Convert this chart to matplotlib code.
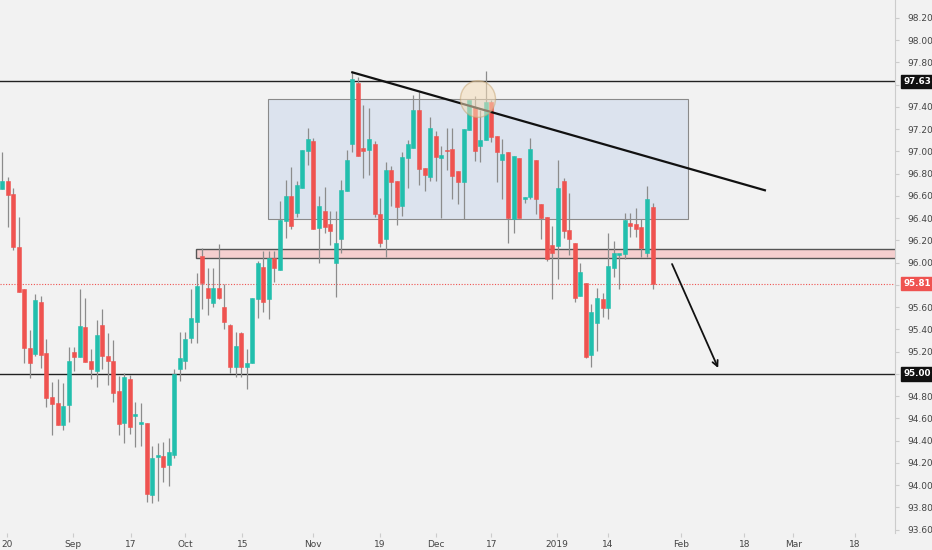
import matplotlib
matplotlib.use("Agg")
import matplotlib.pyplot as plt
from matplotlib.patches import Rectangle, Ellipse
import numpy as np

opens = [96.66,96.73,96.62,96.14,95.76,95.23,95.18,95.65,95.19,94.79,94.74,94.54,94.72,95.20,95.15,95.42,95.12,95.03,95.44,95.16,
         95.12,94.85,94.56,94.95,94.62,94.55,94.56,93.91,94.25,94.26,94.18,94.27,95.04,95.12,95.32,95.47,96.06,95.77,95.64,95.77,
         95.60,95.44,95.06,95.37,95.06,95.10,95.67,95.96,95.67,96.04,95.93,96.37,96.60,96.45,96.67,97.00,97.09,96.31,96.46,96.35,
         96.00,96.21,96.64,97.07,97.61,97.03,97.01,97.07,96.44,96.21,96.83,96.73,96.51,96.94,97.03,97.37,96.85,96.77,97.14,96.94,
         97.01,97.02,96.82,96.72,97.19,97.40,97.05,97.10,97.44,97.14,96.92,96.99,96.39,96.94,96.57,96.59,96.92,96.53,96.41,96.16,
         96.15,96.73,96.29,96.18,95.70,95.82,95.17,95.46,95.67,95.59,95.95,96.07,96.08,96.36,96.35,96.32,96.09,96.50]
highs = [96.99,96.77,96.67,96.41,95.76,95.39,95.72,95.70,95.31,94.93,94.95,94.92,95.24,95.24,95.76,95.68,95.22,95.48,95.58,95.37,
         95.30,94.98,95.01,94.99,94.75,94.74,94.56,94.35,94.38,94.39,94.42,95.04,95.38,95.38,95.76,95.91,96.13,95.95,95.95,96.17,
         95.81,95.45,95.38,95.38,95.22,95.68,96.01,96.10,96.10,96.10,96.55,96.74,96.86,96.73,97.01,97.21,97.12,96.60,96.68,96.46,
         96.46,96.74,97.01,97.71,97.67,97.42,97.39,97.09,96.58,96.90,96.87,96.73,96.99,97.10,97.51,97.53,96.85,97.31,97.18,97.05,
         97.21,97.21,96.82,97.20,97.46,97.50,97.37,97.72,97.46,97.14,97.11,96.99,96.96,96.94,96.59,97.12,96.92,96.53,96.41,96.33,
         96.92,96.76,96.63,96.18,96.00,95.82,95.63,95.77,95.73,96.27,96.19,96.08,96.45,96.45,96.49,96.39,96.69,96.54]
lows = [96.66,96.32,96.11,95.74,95.10,94.96,95.16,95.05,94.70,94.45,94.54,94.50,94.57,95.03,95.15,95.11,94.95,94.88,95.04,94.90,
        94.75,94.45,94.38,94.46,94.34,94.35,93.85,93.84,93.86,94.03,93.99,94.24,94.94,95.04,95.28,95.28,95.58,95.53,95.60,95.67,
        95.40,95.01,94.97,94.97,94.86,95.10,95.50,95.56,95.49,95.83,95.93,96.22,96.30,96.41,96.67,96.88,96.30,96.00,96.27,96.16,
        95.69,96.09,96.64,96.99,96.96,96.76,96.79,96.41,96.14,96.05,96.51,96.34,96.42,96.67,97.03,96.70,96.64,96.73,96.73,96.40,
        96.83,96.57,96.53,96.39,97.19,96.91,96.90,97.10,97.08,96.72,96.57,96.18,96.27,96.40,96.54,96.57,96.44,96.21,96.01,95.67,
        95.85,96.22,96.07,95.65,95.70,95.14,95.06,95.21,95.51,95.49,95.87,95.76,96.03,96.23,96.23,96.05,96.05,95.76]
closes = [96.73,96.61,96.14,95.74,95.23,95.10,95.66,95.17,94.78,94.73,94.54,94.71,95.12,95.15,95.43,95.11,95.04,95.35,95.16,95.12,
          94.83,94.55,94.97,94.52,94.63,94.56,93.92,94.24,94.27,94.16,94.30,95.00,95.14,95.31,95.50,95.79,95.82,95.68,95.77,95.68,
          95.47,95.06,95.25,95.06,95.10,95.68,96.00,95.65,96.04,95.95,96.38,96.60,96.33,96.70,97.01,97.11,96.30,96.51,96.32,96.28,
          96.18,96.65,96.92,97.65,96.96,97.00,97.11,96.44,96.18,96.83,96.72,96.50,96.95,97.07,97.37,96.84,96.79,97.21,96.95,96.97,
          97.00,96.78,96.72,97.20,97.46,97.00,97.10,97.44,97.13,96.99,96.98,96.40,96.96,96.40,96.59,97.02,96.57,96.40,96.03,96.09,
          96.67,96.28,96.21,95.68,95.92,95.15,95.56,95.68,95.59,95.97,96.09,96.08,96.38,96.33,96.30,96.13,96.57,95.81]

tick_labels = ["20", "Sep", "17", "Oct", "15", "Nov", "19", "Dec", "17", "2019", "14", "Feb", "18", "Mar", "18"]
tick_idx = [0.9, 12.8, 23.2, 32.9, 43.2, 55.9, 68.0, 78.1, 88.0, 99.8, 109.0, 122.1, 133.5, 142.3, 153.4]

resistance = 97.63
support = 95.00
last_price = 95.81

UP = "#22bfad"
DN = "#ef5350"
BG = "#f2f2f2"

fig = plt.figure(figsize=(9.32, 5.50), dpi=100, facecolor=BG)
ax = fig.add_axes([0, 17/550, 895/932, 533/550])
ax.set_facecolor(BG)

ax.add_patch(Rectangle((47.8, 96.39), 123.4-47.8, 97.47-96.39, facecolor="#dce3ee", edgecolor="#8a8a8a", lw=0.8, zorder=1))
ax.add_patch(Rectangle((34.9, 96.04), 200, 0.08, facecolor="#f5cfcf", edgecolor="#555555", lw=1.0, zorder=1))

x = np.arange(len(opens))
for i in x:
    o, h, l, c = opens[i], highs[i], lows[i], closes[i]
    col = UP if c >= o else DN
    ax.vlines(i, l, h, color="#8c8c8c", lw=0.9, zorder=3)
    lo = min(o, c); hgt = max(abs(c - o), 0.015)
    ax.add_patch(Rectangle((i - 0.36, lo), 0.72, hgt, facecolor=col, edgecolor=col, lw=0.4, zorder=4))

ax.axhline(resistance, color="#222222", lw=1.0, zorder=2)
ax.axhline(support, color="#222222", lw=1.0, zorder=2)
ax.axhline(last_price, color=DN, lw=0.8, ls=(0, (1, 1.5)), zorder=2)

ax.plot([63.0, 137.2], [97.71, 96.65], color="#111111", lw=1.6, zorder=5)
ax.add_patch(Ellipse((85.6, 97.47), 6.3, 0.33, facecolor="#f5ddb8", edgecolor="#c8a878", lw=1.0, alpha=0.55, zorder=6))
ax.annotate("", xy=(129.0, 95.03), xytext=(120.3, 96.01),
            arrowprops=dict(arrowstyle="->", color="#111111", lw=1.3), zorder=6)

ax.set_xlim(-0.36, 160.6)
ax.set_ylim(93.57, 98.36)
for s in ["top", "left", "bottom"]:
    ax.spines[s].set_visible(False)
ax.spines["right"].set_color("#cccccc")
ax.yaxis.tick_right()
yt = np.round(np.arange(93.6, 98.21, 0.2), 2)
hidden = [round(v, 1) for v in (resistance, support, last_price)]
ax.set_yticks(yt)
ax.set_yticklabels(["" if round(v, 1) in hidden else f"{v:.2f}" for v in yt], fontsize=6.5, color="#444444")
ax.tick_params(axis="y", length=3, color="#cccccc", pad=6)
ax.set_xticks(tick_idx)
ax.set_xticklabels(tick_labels, fontsize=6.5, color="#444444")
ax.tick_params(axis="x", length=3, color="#cccccc", pad=2)

for val, fc in [(resistance, "#111111"), (support, "#111111"), (last_price, DN)]:
    ax.text(1.009, val, f"{val:.2f}", transform=ax.get_yaxis_transform(), fontsize=6.3, color="white",
            fontweight="bold", va="center", ha="left",
            bbox=dict(boxstyle="square,pad=0.25", facecolor=fc, edgecolor=fc), zorder=10, clip_on=False)

fig.savefig("out.png", dpi=100, facecolor=BG)
